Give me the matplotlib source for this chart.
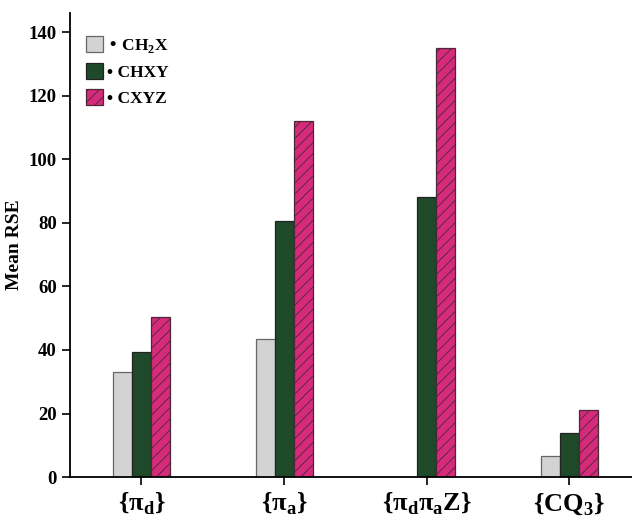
import numpy as np
import matplotlib
matplotlib.use('Agg')
import matplotlib.pyplot as plt

plt.rcParams['font.family'] = ['Liberation Serif', 'DejaVu Serif']
plt.rcParams['font.weight'] = 'bold'
plt.rcParams['hatch.linewidth'] = 0.6

# Data
categories = ['{π$_\\mathregular{d}$}', '{π$_\\mathregular{a}$}',
              '{π$_\\mathregular{d}$π$_\\mathregular{a}$Z}', '{CQ$_\\mathregular{3}$}']
series_names = ['• CH$_\\mathregular{2}$X', '• CHXY', '• CXYZ']
ch2x = [33, 43.5, 0, 6.5]
chxy = [39.5, 80.5, 88, 14]
cxyz = [50.5, 112, 135, 21]

fig = plt.figure(figsize=(6.32, 5.22), dpi=100)
ax = fig.add_axes([0.111, 0.086, 0.889, 0.889])

x = np.arange(len(categories))
w = 0.133
ax.bar(x - w, ch2x, w, color='#d3d3d3', edgecolor='#666666', linewidth=0.9, label=series_names[0])
ax.bar(x, chxy, w, color='#1f4a2a', edgecolor='#222222', linewidth=0.9, label=series_names[1])
ax.bar(x + w, cxyz, w, color='#d62a7a', edgecolor='#4a2838', linewidth=0.9,
       hatch='///', label=series_names[2])

ax.set_xlim(-0.5, 3.44)
ax.set_ylim(0, 146)
ax.set_yticks(np.arange(0, 141, 20))
ax.set_xticks(x)
ax.set_xticklabels(categories, fontsize=19, fontweight='bold')
ax.tick_params(axis='y', labelsize=13.5, direction='out', length=6, width=1.2)
ax.tick_params(axis='x', direction='out', length=6, width=1.2, pad=4)
for lbl in ax.get_yticklabels():
    lbl.set_fontweight('bold')
ax.set_ylabel('Mean RSE', fontsize=14, fontweight='bold', labelpad=4)

ax.spines['top'].set_visible(False)
ax.spines['right'].set_visible(False)
ax.spines['left'].set_linewidth(1.3)
ax.spines['bottom'].set_linewidth(1.3)

leg = ax.legend(loc='upper left', bbox_to_anchor=(0.0, 0.985), frameon=False,
                fontsize=12.5, handlelength=1.0, handleheight=1.1, handletextpad=0.2,
                labelspacing=0.45, borderaxespad=0.5)
for t in leg.get_texts():
    t.set_fontweight('bold')

fig.savefig('out.png', dpi=100)
